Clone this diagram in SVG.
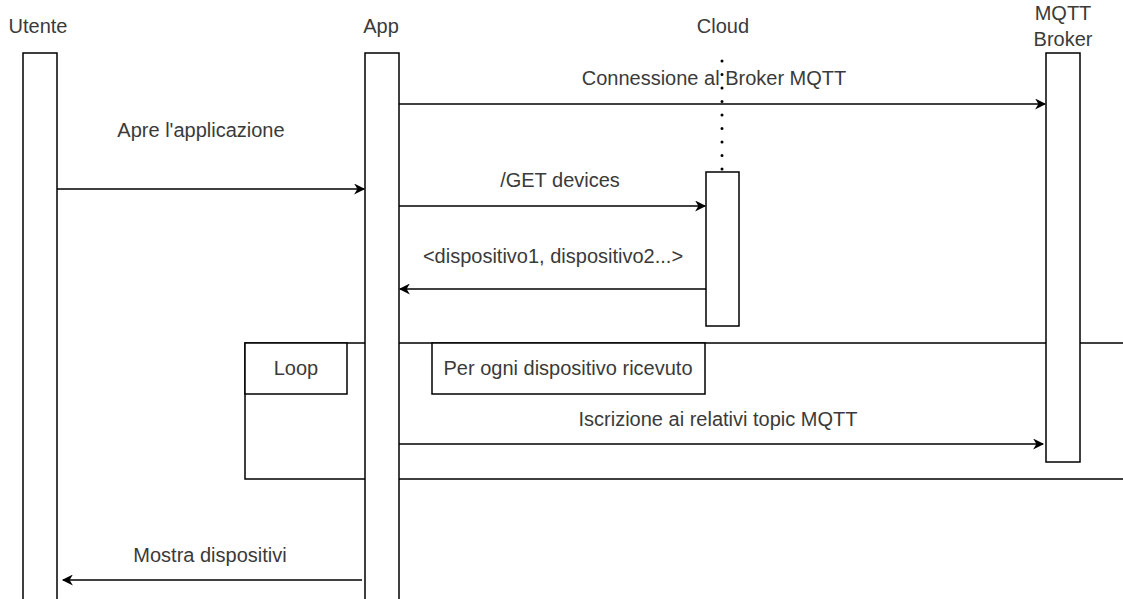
<svg xmlns="http://www.w3.org/2000/svg" width="1123" height="599" viewBox="0 0 1123 599">
  <defs>
    <marker id="arrow" viewBox="0 0 10 10" refX="9" refY="5" markerWidth="12" markerHeight="11" markerUnits="userSpaceOnUse" orient="auto">
      <path d="M0,0 L10,5 L0,10 L3,5 Z" fill="#000"/>
    </marker>
  </defs>
  <style>
    text { font-family: "Liberation Sans", Arial, sans-serif; font-size: 20px; fill: #3a3a3a; }
    .label { text-anchor: middle; }
    .box { fill: #fff; stroke: #000; stroke-width: 1.5; }
    .frame { fill: none; stroke: #000; stroke-width: 1.5; }
    .msg { fill: none; stroke: #000; stroke-width: 1.5; marker-end: url(#arrow); }
    .dotted { stroke: #000; stroke-width: 3; stroke-dasharray: 0 13.5; stroke-linecap: round; }
  </style>
  <rect width="1123" height="599" fill="#fff"/>

  <!-- loop fragment (behind the lifelines) -->
  <g id="loop">
    <path class="frame" d="M1130,343 H245 V479 H1130"/>
    <rect class="box" x="245" y="343" width="102" height="51"/>
    <text class="label" x="296" y="375">Loop</text>
    <rect class="box" x="432" y="343" width="273" height="51"/>
    <text class="label" x="568" y="375">Per ogni dispositivo ricevuto</text>
  </g>

  <g id="utente">
    <text class="label" x="38" y="33">Utente</text>
    <rect class="box" x="23" y="53" width="34" height="560"/>
  </g>

  <g id="app">
    <text class="label" x="381" y="33">App</text>
    <rect class="box" x="365" y="53" width="34" height="560"/>
  </g>

  <g id="cloud">
    <text class="label" x="723" y="33">Cloud</text>
    <line class="dotted" x1="722" y1="61" x2="722" y2="172"/>
    <rect class="box" x="706" y="172" width="33" height="154"/>
  </g>

  <g id="broker">
    <text class="label" x="1063" y="20">MQTT</text>
    <text class="label" x="1063" y="46">Broker</text>
    <rect class="box" x="1046" y="53" width="34" height="409"/>
  </g>

  <g id="messages">
    <line class="msg" x1="399" y1="104" x2="1045" y2="104"/>
    <text class="label" x="714" y="85">Connessione al Broker MQTT</text>

    <line class="msg" x1="57" y1="189" x2="364" y2="189"/>
    <text class="label" x="201" y="137">Apre l'applicazione</text>

    <line class="msg" x1="399" y1="206" x2="705" y2="206"/>
    <text class="label" x="560" y="187">/GET devices</text>

    <line class="msg" x1="706" y1="289" x2="400" y2="289"/>
    <text class="label" x="553" y="263">&lt;dispositivo1, dispositivo2...&gt;</text>

    <line class="msg" x1="399" y1="444" x2="1043" y2="444"/>
    <text class="label" x="718" y="426">Iscrizione ai relativi topic MQTT</text>

    <line class="msg" x1="362" y1="580" x2="63" y2="580"/>
    <text class="label" x="210" y="562">Mostra dispositivi</text>
  </g>
</svg>
